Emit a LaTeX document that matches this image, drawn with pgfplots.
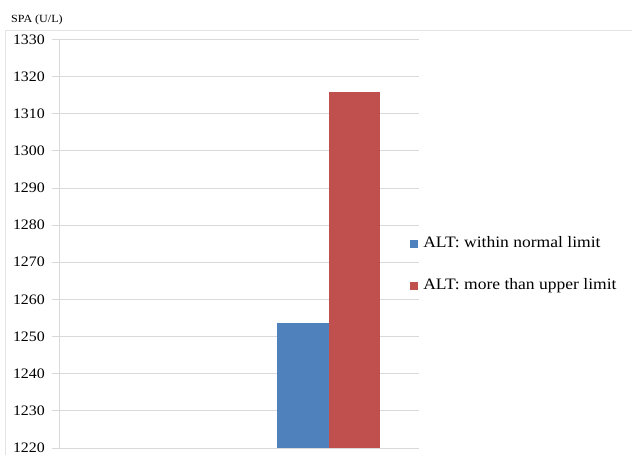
\documentclass[border=0pt]{standalone}
\usepackage{fontspec}
\setmainfont{Liberation Serif}[FakeStretch=1.1]
\usepackage{pgfplots}
\pgfplotsset{compat=1.18}
\definecolor{blueC}{HTML}{4F81BD}
\definecolor{redC}{HTML}{C0504D}
\definecolor{gridC}{HTML}{D9D9D9}
\definecolor{borderC}{HTML}{E3E3E3}
\begin{document}
\begin{tikzpicture}[x=1bp,y=1bp]
\useasboundingbox (0,0) rectangle (632,455);
\draw[borderC, line width=0.8bp] (5,0) -- (5,425) -- (632,425);
\node[anchor=base west, inner sep=0pt, font=\fontsize{11}{13}\selectfont] at (11,432.3) {SPA (U/L)};
\begin{axis}[
  at={(59bp,7bp)}, anchor=south west,
  scale only axis, width=359.7bp, height=408.7bp,
  xmin=0, xmax=2, ymin=1220, ymax=1330,
  ytick={1220,1230,...,1330},
  xtick=\empty,
  axis lines=left,
  axis line style={-, draw=gridC, line width=0.8bp},
  ymajorgrids, grid style={draw=gridC, line width=0.8bp},
  tick align=outside, major tick length=7bp,
  ytick style={draw=gridC, line width=0.8bp},
  /pgf/number format/assume math mode=true,
  /pgf/number format/1000 sep={},
  yticklabel style={font=\fontsize{14.5}{16}\selectfont, inner sep=0bp, xshift=-7bp},
  ybar=0pt, bar width=0.2853,
  legend style={at={(0.9760,0.4480)}, anchor=west, draw=none, fill=none,
    inner sep=0pt, row sep=24bp,
    font=\fontsize{16}{18}\selectfont,
    nodes={inner sep=2bp, text height=11bp, text depth=3bp},
    /tikz/every odd column/.append style={column sep=3bp}},
  legend cell align=left,
  legend image code/.code={\fill[#1] (0bp,-4bp) rectangle (8bp,4bp);},
]
\addplot[fill=blueC, draw=none] coordinates {(1.5,1253.6)};
\addplot[fill=redC, draw=none] coordinates {(1.5,1315.7)};
\legend{ALT: within normal limit, ALT: more than upper limit}
\end{axis}
\end{tikzpicture}
\end{document}
